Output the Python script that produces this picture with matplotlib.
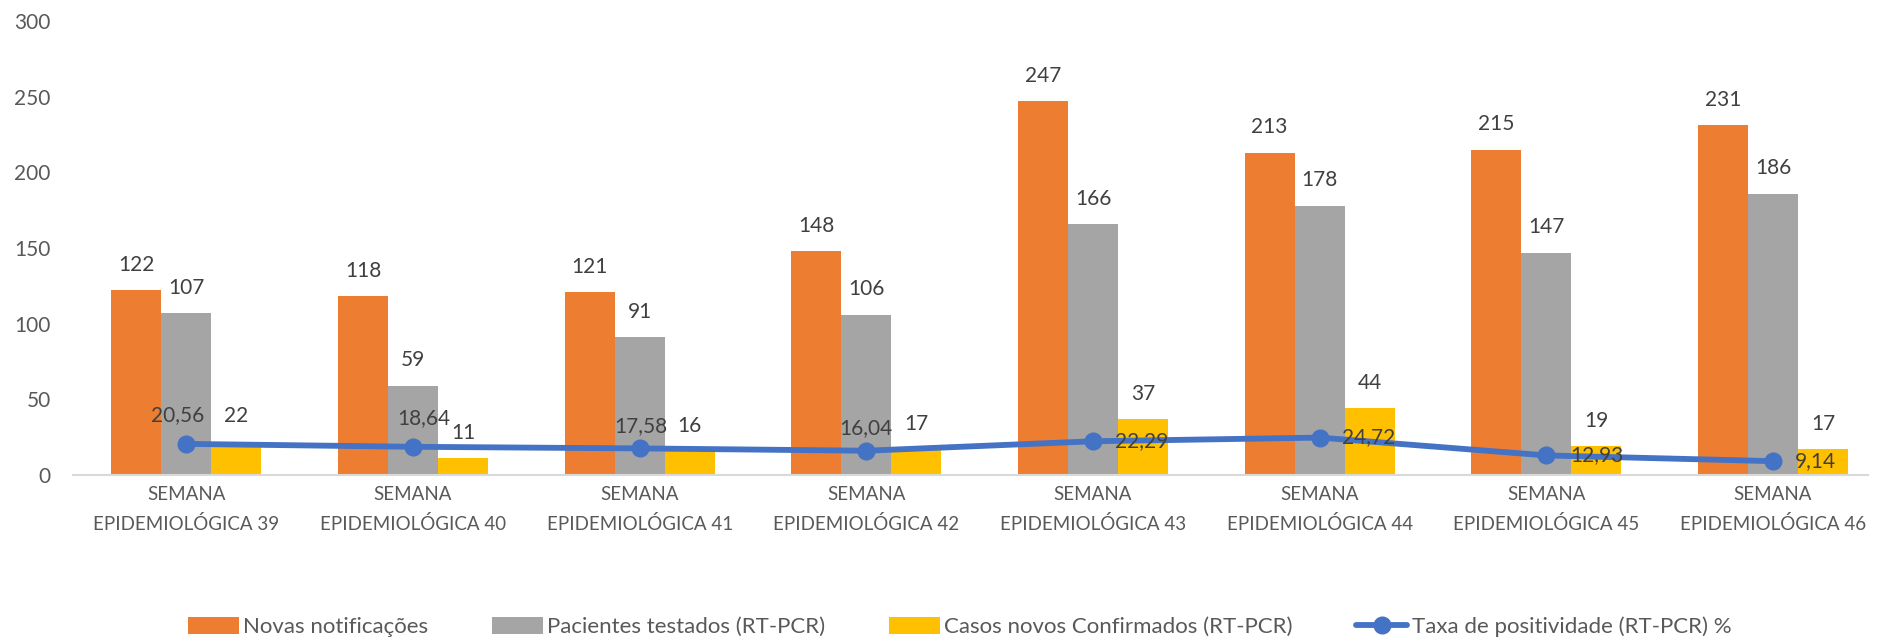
import matplotlib
matplotlib.use("Agg")
import matplotlib.pyplot as plt
import numpy as np

plt.rcParams['font.family'] = ['Lato', 'DejaVu Sans']

semanas = ["39", "40", "41", "42", "43", "44", "45", "46"]
categorias = ["SEMANA\nEPIDEMIOLÓGICA " + s for s in semanas]
novas_notificacoes = [122, 118, 121, 148, 247, 213, 215, 231]
pacientes_testados = [107, 59, 91, 106, 166, 178, 147, 186]
casos_confirmados = [22, 11, 16, 17, 37, 44, 19, 17]
taxa_positividade = [20.56, 18.64, 17.58, 16.04, 22.29, 24.72, 12.93, 9.14]

series_names = ["Novas notificações", "Pacientes testados (RT-PCR)",
                "Casos novos Confirmados (RT-PCR)", "Taxa de positividade (RT-PCR) %"]
colors = ["#ED7D31", "#A5A5A5", "#FFC000", "#4472C4"]
txt = "#404040"
tick_txt = "#595959"

W, H = 1878, 640
fig = plt.figure(figsize=(W / 100, H / 100), dpi=100)
ax_left, ax_right, ax_top, ax_bottom = 73, 1868, 21, 475
ax = fig.add_axes([ax_left / W, 1 - ax_bottom / H, (ax_right - ax_left) / W, (ax_bottom - ax_top) / H])

x = np.arange(len(categorias))
spacing_px = 226.7
w = 50 / spacing_px
handles = []
for i, (vals, c, name) in enumerate(zip([novas_notificacoes, pacientes_testados, casos_confirmados],
                                         colors[:3], series_names[:3])):
    pos = x + (i - 1) * w
    b = ax.bar(pos, vals, width=w, color=c, label=name, zorder=2)
    handles.append(b)
    for p, v in zip(pos, vals):
        ax.annotate(str(v), (p, v), xytext=(0, 11), textcoords="offset points",
                    ha="center", va="bottom", fontsize=15, color=txt, zorder=5)

ln, = ax.plot(x, taxa_positividade, color=colors[3], lw=4.2, marker="o", ms=12,
              label=series_names[3], zorder=3, solid_capstyle="round")
handles.append(ln)

# label placement offsets (points) for line labels: (dx, dy, ha)
offs = [(-6, 21, "center"), (8, 21, "center"), (1, 16, "center"), (0, 16, "center"),
        (16, 0, "left"), (16, 0, "left"), (17, 0, "left"), (16, 0, "left")]
for xi, v, (dx, dy, ha) in zip(x, taxa_positividade, offs):
    ax.annotate(f"{v:.2f}".replace(".", ","), (xi, v), xytext=(dx, dy),
                textcoords="offset points", ha=ha, va="center",
                fontsize=15, color=txt, zorder=6)

ax.set_ylim(0, 300)
ax.set_yticks(range(0, 301, 50))
ax.set_xlim(-0.5, 7 + (ax_right - 1773) / spacing_px)
ax.set_xticks(x)
ax.set_xticklabels(categorias, fontsize=13.5, color=tick_txt, linespacing=1.8)
ax.tick_params(axis="both", length=0, labelcolor=tick_txt)
ax.tick_params(axis="y", labelsize=15, pad=16)
ax.tick_params(axis="x", pad=8)
for s in ["top", "right", "left"]:
    ax.spines[s].set_visible(False)
ax.spines["bottom"].set_color("#D9D9D9")
ax.spines["bottom"].set_linewidth(1.5)

fig.legend(handles, series_names, loc="center", bbox_to_anchor=(0.511, 1 - 627 / H), ncol=4,
           frameon=False, fontsize=16, labelcolor=tick_txt, columnspacing=2.85,
           handlelength=2.3, handleheight=0.8, handletextpad=0.2)

fig.savefig("out.png", dpi=100, facecolor="white")
